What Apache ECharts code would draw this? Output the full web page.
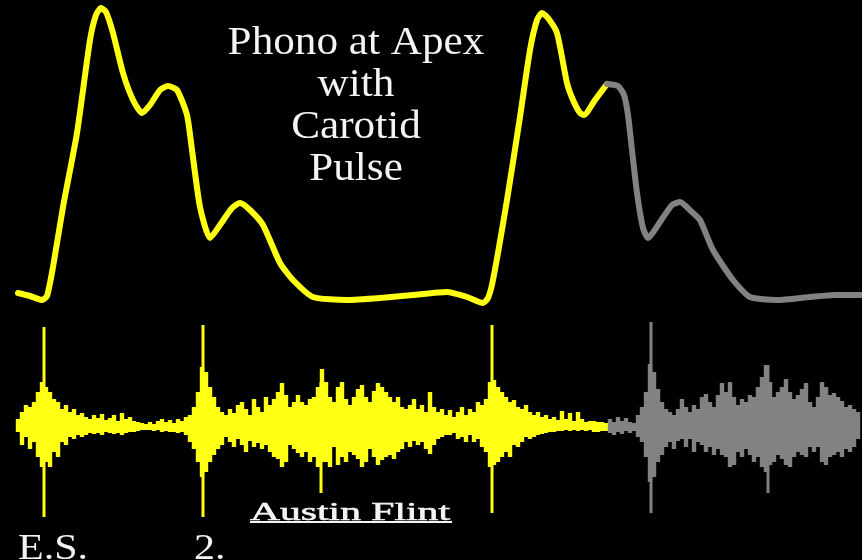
<!DOCTYPE html>
<html>
<head>
<meta charset="utf-8">
<script src="https://cdn.jsdelivr.net/npm/echarts@6/dist/echarts.min.js"></script>
<style>
  html, body { margin: 0; padding: 0; background: #000; }
  #chart { width: 862px; height: 560px; }
</style>
</head>
<body>
<div id="chart"></div>
<script>
// Carotid pulse trace: time and amplitude (arbitrary units)
const pulseTime = [18,30,42,47,53,63,77,90,96,101,106,113,123,133,142,150,160,168,177,187,
  192,200,210,220,232,240,250,263,280,293,313,347,380,413,447,467,483,488,493,507,
  520,530,537,542,548,557,567,573,580,584,595,607,618,624,628,632,637,643,648,660,
  672,680,692,700,713,733,750,777,810,835,862];
const pulseAmp = [7,4,0,4,33,93,167,260,285,292,288,267,227,200,187,195,210,214,210,185,
  150,93,62,75,92,97,90,75,37,20,3,0,2,5,8,3,-3,2,20,100,
  183,250,280,287,282,267,217,200,187,185,200,216,214,205,185,150,107,72,62,78,
  95,98,88,80,50,20,3,0,3,5,5];

// The second cardiac cycle is drawn dimmed from this time onwards
const dimFrom = 607;

// Phonocardiogram envelope: one sample every 4 time units from t = 18
const phonoStart = 18;
const phonoStep = 4;
const phonoUp = [
  8,15,22,20,25,35,45,40,35,28,
  25,18,22,15,18,12,14,10,8,12,
  9,13,7,9,12,6,14,8,10,6,
  5,4,3,5,3,6,8,5,7,4,
  8,6,10,12,20,35,60,55,40,30,
  20,15,12,18,14,22,25,18,12,28,
  20,15,30,22,28,35,44,32,20,25,
  32,25,22,28,30,40,58,45,30,25,
  40,45,28,22,30,38,42,30,25,36,
  44,40,35,30,25,30,20,18,22,28,
  18,22,15,35,20,15,18,12,17,10,
  15,20,12,18,15,25,22,28,45,47,
  40,35,30,25,27,20,18,22,15,12,
  15,10,12,8,10,7,16,8,14,6,
  15,8,5,6,6,5,5,4,8,5,
  10,6,9,5,4,12,20,35,63,55,
  38,25,18,15,12,18,28,20,15,22,
  18,30,33,25,20,32,44,35,45,30,
  22,28,25,32,30,40,50,62,45,30,
  35,40,48,35,28,32,38,44,25,20,
  30,45,40,32,34,30,26,20,22,18,
  15];
const phonoDown = [
  5,18,10,22,15,30,40,35,40,25,
  30,15,18,10,12,8,10,8,6,7,
  6,8,5,6,7,6,8,6,5,5,
  4,3,3,3,4,3,5,4,5,5,
  6,5,8,15,22,35,50,45,35,28,
  22,18,10,15,20,12,18,25,14,20,
  16,22,18,25,30,32,40,35,18,22,
  26,30,25,35,30,40,35,35,40,20,
  38,30,35,25,28,32,40,35,22,30,
  38,33,30,28,32,25,22,15,20,14,
  18,15,22,27,18,12,10,8,8,6,
  12,10,15,8,15,12,20,25,40,38,
  35,30,25,30,18,20,15,10,12,10,
  8,7,6,5,5,4,4,3,4,3,
  4,3,4,3,5,5,4,4,6,8,
  5,7,4,6,4,10,15,30,55,50,
  35,28,20,15,22,14,12,20,12,25,
  15,18,25,20,28,22,28,30,40,38,
  25,30,22,28,35,30,40,45,38,35,
  28,32,38,40,30,25,28,30,20,25,
  20,35,38,30,28,25,30,22,25,20,
  12];

// Sharp transients (heart sounds) rising above the envelope
const spikeTime = [44, 203, 321, 492, 651, 768];
const spikeUp   = [100, 102, 45, 102, 105, 62];
const spikeDown = [90, 90, 66, 86, 86, 66];

// Text
const titleLines = ['Phono at Apex', 'with', 'Carotid', 'Pulse'];
const soundMarks = ['E.S.', '2.'];
const murmurName = 'Austin Flint';

const YELLOW = '#ffff14';
const GRAY = '#828282';
const WHITE = '#f4f4f4';

const pulsePairs = pulseTime.map((t, i) => [t, pulseAmp[i]]);
const pulseBright = pulsePairs.filter(p => p[0] <= dimFrom);
const pulseDim = pulsePairs.filter(p => p[0] >= dimFrom);
const phonoData = phonoUp.map((u, i) => [phonoStart + i * phonoStep, u, phonoDown[i]]);
const spikeData = spikeTime.map((t, i) => [t, spikeUp[i], spikeDown[i]]);

// Each sample is a vertical column from -down to +up around the baseline
function columnRenderer(width) {
  return function (params, api) {
    const t = api.value(0);
    const top = api.coord([t, api.value(1)]);
    const bot = api.coord([t, -api.value(2)]);
    const w = api.size([width, 0])[0];
    return {
      type: 'rect',
      shape: { x: top[0] - w / 2, y: top[1], width: w, height: bot[1] - top[1] },
      style: { fill: t < dimFrom ? YELLOW : GRAY }
    };
  };
}

function pulseSeries(name, data, color) {
  return {
    name: name,
    type: 'line',
    xAxisIndex: 0,
    yAxisIndex: 0,
    data: data,
    symbol: 'none',
    smooth: 0.2,
    lineStyle: { width: 6, color: color, join: 'round', cap: 'round' }
  };
}

function markText(text, x) {
  return {
    type: 'text',
    x: x, y: 532,
    scaleX: 1.2,
    style: { text: text, font: '35px "Liberation Serif"', fill: WHITE, align: 'left', verticalAlign: 'top' }
  };
}

const chart = echarts.init(document.getElementById('chart'));
chart.setOption({
  backgroundColor: '#000',
  animation: false,
  grid: [
    { left: 0, right: 0, top: 0, height: 310 },
    { left: 0, right: 0, top: 322, height: 210 }
  ],
  xAxis: [
    { type: 'value', gridIndex: 0, min: 0, max: 862, show: false },
    { type: 'value', gridIndex: 1, min: 0, max: 862, show: false }
  ],
  yAxis: [
    { type: 'value', gridIndex: 0, min: -10, max: 300, show: false },
    { type: 'value', gridIndex: 1, min: -105, max: 105, show: false }
  ],
  series: [
    pulseSeries('Carotid pulse', pulseBright, YELLOW),
    pulseSeries('Carotid pulse (next beat)', pulseDim, GRAY),
    {
      name: 'Phonocardiogram',
      type: 'custom',
      xAxisIndex: 1,
      yAxisIndex: 1,
      data: phonoData,
      renderItem: columnRenderer(phonoStep + 0.4)
    },
    {
      name: 'Heart sounds',
      type: 'custom',
      xAxisIndex: 1,
      yAxisIndex: 1,
      data: spikeData,
      renderItem: columnRenderer(3)
    }
  ],
  graphic: [
    {
      type: 'text',
      x: 356, y: 22,
      scaleX: 1.08,
      style: {
        text: titleLines.join('\n'),
        font: '40px "Liberation Serif"',
        fill: WHITE,
        align: 'center',
        verticalAlign: 'top',
        lineHeight: 42
      }
    },
    markText(soundMarks[0], 18),
    markText(soundMarks[1], 194),
    {
      type: 'text',
      x: 250, y: 500,
      scaleX: 1.6,
      style: {
        text: murmurName, font: '26px "Liberation Serif"', fill: WHITE,
        stroke: WHITE, lineWidth: 0.6, align: 'left', verticalAlign: 'top'
      }
    },
    {
      type: 'line',
      shape: { x1: 250, y1: 522, x2: 452, y2: 522 },
      style: { stroke: WHITE, lineWidth: 2 }
    }
  ]
});
</script>
</body>
</html>
